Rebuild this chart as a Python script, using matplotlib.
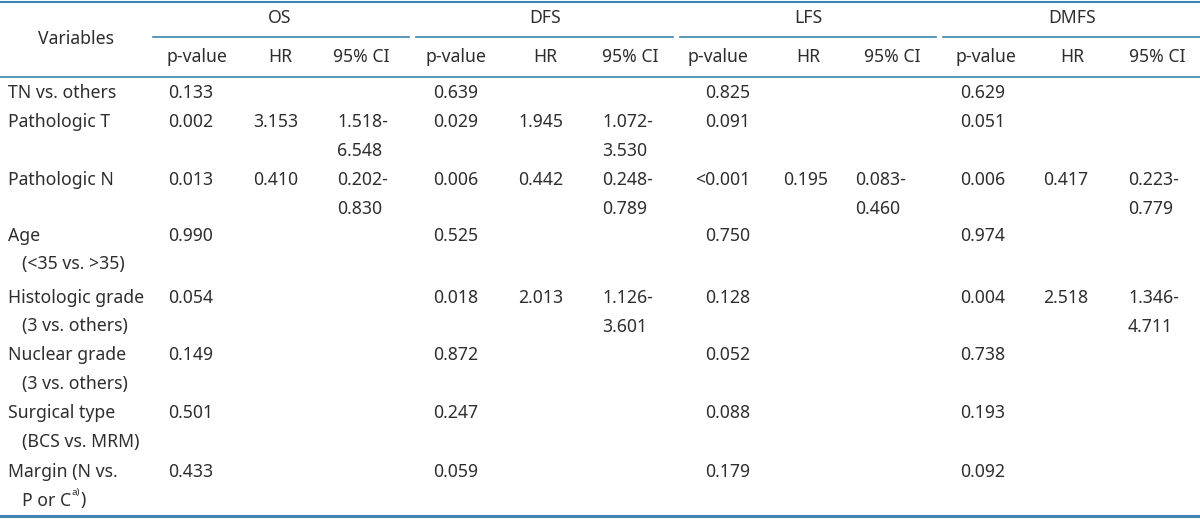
import matplotlib.pyplot as plt

# данные таблицы
variables = ["TN vs. others", "Pathologic T", "Pathologic N", "Age\n(<35 vs. >35)",
             "Histologic grade\n(3 vs. others)", "Nuclear grade\n(3 vs. others)",
             "Surgical type\n(BCS vs. MRM)", "Margin (N vs.\nP or C"]
groups = ["OS", "DFS", "LFS", "DMFS"]
sub_headers = ["p-value", "HR", "95% CI"]

os_p = ["0.133", "0.002", "0.013", "0.990", "0.054", "0.149", "0.501", "0.433"]
os_hr = ["", "3.153", "0.410", "", "", "", "", ""]
os_ci = ["", "1.518-\n6.548", "0.202-\n0.830", "", "", "", "", ""]

dfs_p = ["0.639", "0.029", "0.006", "0.525", "0.018", "0.872", "0.247", "0.059"]
dfs_hr = ["", "1.945", "0.442", "", "2.013", "", "", ""]
dfs_ci = ["", "1.072-\n3.530", "0.248-\n0.789", "", "1.126-\n3.601", "", "", ""]

lfs_p = ["0.825", "0.091", "<0.001", "0.750", "0.128", "0.052", "0.088", "0.179"]
lfs_hr = ["", "", "0.195", "", "", "", "", ""]
lfs_ci = ["", "", "0.083-\n0.460", "", "", "", "", ""]

dmfs_p = ["0.629", "0.051", "0.006", "0.974", "0.004", "0.738", "0.193", "0.092"]
dmfs_hr = ["", "", "0.417", "", "2.518", "", "", ""]
dmfs_ci = ["", "", "0.223-\n0.779", "", "1.346-\n4.711", "", "", ""]

# раскладка (пиксели)
row_y = [93, 122, 180, 236, 298, 355, 413, 472]
line_h = 28.5
group_span = [(153, 409), (416, 673), (680, 936), (943, 1200)]
head_x = [(197, 280, 361), (456, 545, 630), (718, 808, 892), (986, 1072, 1157)]
# правый край p и HR, левый край CI
val_x = [(213, 298, 337), (478, 563, 602), (750, 828, 855), (1005, 1088, 1128)]

line_color = "#3d84b3"
text_color = "#2e2e2e"
fs = 12.7
plt.rcParams['font.family'] = ['Noto Sans', 'DejaVu Sans']

fig = plt.figure(figsize=(12, 5.19), dpi=100)
ax = fig.add_axes([0, 0, 1, 1])
ax.set_xlim(0, 1200)
ax.set_ylim(519, 0)
ax.axis('off')

# линии
ax.plot([0, 1200], [1.5, 1.5], color=line_color, lw=1.5)
ax.plot([0, 1200], [77, 77], color=line_color, lw=1.2)
ax.plot([0, 1200], [516, 516], color=line_color, lw=2.2)
for x0, x1 in group_span:
    ax.plot([x0, x1], [37, 37], color=line_color, lw=1.2)

# заголовки
ax.text(76, 39, "Variables", ha='center', va='center', fontsize=fs, color=text_color)
for g, (x0, x1), hx in zip(groups, group_span, head_x):
    ax.text(hx[1], 18, g, ha='center', va='center', fontsize=fs, color=text_color)
    for s, x in zip(sub_headers, hx):
        ax.text(x, 57, s, ha='center', va='center', fontsize=fs, color=text_color)

# строки
last = None
for i, v in enumerate(variables):
    lines = v.split("\n")
    y = row_y[i]
    ax.text(8, y, lines[0], ha='left', va='center', fontsize=fs, color=text_color)
    if len(lines) > 1:
        last = ax.text(22, y + line_h, lines[1], ha='left', va='center',
                       fontsize=fs, color=text_color)

cols = [(os_p, os_hr, os_ci), (dfs_p, dfs_hr, dfs_ci),
        (lfs_p, lfs_hr, lfs_ci), (dmfs_p, dmfs_hr, dmfs_ci)]
for (p, hr, ci), (xp, xh, xc) in zip(cols, val_x):
    for i in range(len(variables)):
        y = row_y[i]
        ax.text(xp, y, p[i], ha='right', va='center', fontsize=fs, color=text_color)
        if hr[i]:
            ax.text(xh, y, hr[i], ha='right', va='center', fontsize=fs, color=text_color)
        if ci[i]:
            a, b = ci[i].split("\n")
            ax.text(xc, y, a, ha='left', va='center', fontsize=fs, color=text_color)
            ax.text(xc, y + line_h, b, ha='left', va='center', fontsize=fs, color=text_color)

# надстрочное "a)" после "P or C"
fig.canvas.draw()
r = fig.canvas.get_renderer()
inv = ax.transData.inverted()
xd = inv.transform((last.get_window_extent(r).x1, 0))[0]
sup = ax.text(xd, row_y[-1] + line_h - 8, "a)", ha='left', va='center',
              fontsize=7, color=text_color)
fig.canvas.draw()
xd2 = inv.transform((sup.get_window_extent(r).x1, 0))[0]
ax.text(xd2 + 0.5, row_y[-1] + line_h, ")", ha='left', va='center', fontsize=fs, color=text_color)

fig.savefig("out.png", dpi=100)
